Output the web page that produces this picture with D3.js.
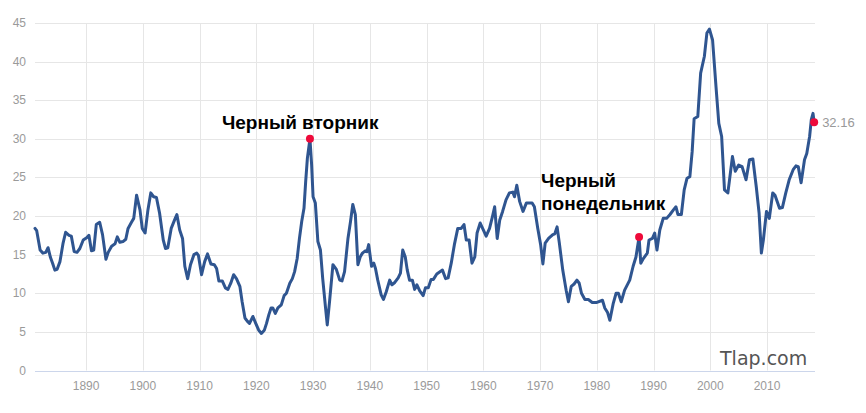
<!DOCTYPE html>
<html>
<head>
<meta charset="utf-8">
<script src="https://cdn.jsdelivr.net/npm/d3@7"></script>
<style>
  body { margin: 0; background: #fff; }
  .tick-label { font-family: "Liberation Sans", Arial, sans-serif; font-size: 12px; fill: #9a9a9a; }
  .note { font-family: "Liberation Sans", Arial, sans-serif; font-size: 19px; font-weight: bold; fill: #000; }
</style>
</head>
<body>
<div id="chart"></div>
<script>
// Shiller CAPE, values
var years = [
  1881.0, 1881.3, 1881.9, 1882.4, 1882.9, 1883.3, 1883.7, 1884.1, 1884.5, 1884.9,
  1885.4, 1885.95, 1886.4, 1887.0, 1887.4, 1887.9, 1888.4, 1888.9, 1889.5, 1890.1,
  1890.5, 1890.95, 1891.35, 1891.8, 1892.4, 1892.9, 1893.5, 1893.9, 1894.5, 1895.1,
  1895.5, 1895.95, 1896.5, 1897.0, 1897.4, 1898.0, 1898.4, 1898.9, 1899.5, 1899.9,
  1900.4, 1900.9, 1901.4, 1901.9, 1902.4, 1902.95, 1903.6, 1904.0, 1904.4, 1905.0,
  1905.6, 1906.0, 1906.5, 1907.0, 1907.4, 1907.9, 1908.4, 1909.0, 1909.5, 1909.8,
  1910.35, 1910.9, 1911.4, 1912.0, 1912.6, 1913.0, 1913.4, 1914.0, 1914.55, 1915.0,
  1915.5, 1916.0, 1916.5, 1917.1, 1917.5, 1918.0, 1918.4, 1918.8, 1919.4, 1919.9,
  1920.4, 1920.9, 1921.4, 1921.8, 1922.2, 1922.6, 1922.9, 1923.35, 1923.8, 1924.4,
  1924.9, 1925.3, 1925.9, 1926.35, 1926.75, 1927.2, 1927.6, 1928.0, 1928.4, 1928.7,
  1929.0, 1929.45, 1929.75, 1930.0, 1930.4, 1930.85, 1931.3, 1931.7, 1932.2, 1932.5,
  1932.9, 1933.5, 1934.1, 1934.7, 1935.1, 1935.55, 1936.15, 1936.6, 1937.0, 1937.45,
  1937.9, 1938.3, 1938.7, 1939.2, 1939.5, 1939.8, 1940.3, 1940.7, 1941.0, 1941.4,
  1942.0, 1942.4, 1942.9, 1943.5, 1943.9, 1944.4, 1945.0, 1945.4, 1945.8, 1946.25,
  1946.6, 1947.0, 1947.5, 1947.9, 1948.3, 1948.8, 1949.4, 1949.8, 1950.3, 1950.8,
  1951.2, 1951.8, 1952.8, 1953.35, 1953.8, 1954.35, 1954.9, 1955.5, 1956.1, 1956.6,
  1957.0, 1957.5, 1958.0, 1958.5, 1958.9, 1959.45, 1960.0, 1960.5, 1961.1, 1961.6,
  1962.0, 1962.45, 1962.9, 1963.4, 1964.0, 1964.6, 1965.2, 1965.5, 1965.9, 1966.4,
  1967.0, 1967.6, 1968.2, 1968.6, 1969.0, 1969.6, 1970.1, 1970.5, 1970.9, 1971.5,
  1972.25, 1972.6, 1973.0, 1973.4, 1974.0, 1974.6, 1975.0, 1975.5, 1976.0, 1976.5,
  1976.9, 1977.3, 1977.9, 1978.5, 1979.2, 1979.9, 1981.0, 1981.4, 1981.9, 1982.3,
  1982.9, 1983.4, 1983.8, 1984.3, 1984.9, 1985.8, 1986.4, 1986.9, 1987.45, 1987.75,
  1988.2, 1988.9, 1989.2, 1989.8, 1990.2, 1990.6, 1991.1, 1991.7, 1992.3, 1992.9,
  1993.5, 1993.95, 1994.3, 1994.9, 1995.4, 1995.9, 1996.4, 1996.8, 1997.15, 1997.8,
  1998.3, 1998.96, 1999.4, 1999.85, 2000.4, 2001.0, 2001.5, 2002.0, 2002.5, 2003.1,
  2003.9, 2004.4, 2005.0, 2005.6, 2006.3, 2006.9, 2007.5, 2008.1, 2008.6, 2009.0,
  2009.35, 2009.9, 2010.4, 2011.0, 2011.4, 2012.2, 2012.7, 2013.3, 2013.9, 2014.6,
  2015.1, 2015.5, 2016.0, 2016.6, 2017.0, 2017.5, 2017.8, 2018.1, 2018.3
];

var cape = [
  18.4, 18.1, 15.6, 15.2, 15.3, 15.9, 14.7, 13.9, 13.0, 13.1,
  14.1, 16.5, 17.9, 17.5, 17.4, 15.4, 15.3, 15.8, 16.9, 17.2,
  17.5, 15.5, 15.6, 18.9, 19.2, 17.6, 14.4, 15.3, 16.1, 16.4,
  17.3, 16.6, 16.7, 17.0, 18.4, 19.2, 19.7, 22.7, 20.8, 18.4,
  17.8, 20.8, 23.0, 22.5, 22.4, 20.4, 16.9, 15.8, 15.9, 18.4,
  19.5, 20.2, 18.2, 17.1, 13.5, 11.9, 13.7, 15.0, 15.2, 14.9,
  12.4, 14.1, 15.1, 13.8, 13.7, 13.2, 11.6, 11.6, 10.7, 10.5,
  11.3, 12.4, 11.9, 10.9, 8.9, 6.8, 6.4, 6.1, 7.0, 6.1,
  5.25, 4.8, 5.2, 6.1, 7.2, 8.1, 8.1, 7.4, 8.1, 8.5,
  9.7, 10.0, 11.3, 11.9, 12.8, 14.5, 17.1, 19.3, 21.0, 24.5,
  27.5, 30.0, 26.6, 22.5, 21.7, 16.7, 15.6, 11.9, 8.1, 5.9,
  8.9, 13.7, 13.1, 11.7, 11.6, 12.8, 17.1, 19.3, 21.5, 20.2,
  13.7, 14.7, 15.2, 15.5, 15.4, 16.3, 13.5, 13.9, 13.2, 11.7,
  9.8, 9.2, 10.2, 11.7, 11.1, 11.4, 12.0, 12.6, 15.6, 14.7,
  13.0, 11.7, 11.7, 10.5, 11.1, 10.3, 9.7, 10.7, 10.7, 11.8,
  11.8, 12.5, 13.0, 11.9, 12.0, 13.9, 16.3, 18.4, 18.4, 18.9,
  16.9, 16.9, 13.9, 14.7, 17.8, 19.1, 18.2, 17.4, 18.4, 19.9,
  21.2, 17.1, 19.5, 20.6, 22.1, 23.0, 23.1, 22.5, 24.0, 21.9,
  20.6, 21.7, 21.7, 21.7, 21.2, 18.4, 16.3, 13.8, 16.5, 17.1,
  17.6, 17.7, 18.6, 16.5, 13.0, 10.4, 8.9, 10.9, 11.2, 11.7,
  11.3, 10.0, 9.2, 9.2, 8.8, 8.8, 9.1, 8.1, 7.5, 6.5,
  8.7, 10.0, 10.0, 8.9, 10.4, 11.7, 13.5, 14.7, 17.3, 13.9,
  14.5, 15.2, 16.9, 17.1, 17.8, 15.6, 18.2, 19.7, 19.7, 20.2,
  20.8, 21.2, 20.2, 20.2, 23.4, 24.9, 25.1, 28.3, 32.6, 32.9,
  38.5, 40.7, 43.7, 44.2, 42.8, 36.8, 32.0, 30.3, 23.4, 23.0,
  27.7, 25.8, 26.6, 26.4, 24.7, 27.3, 27.4, 23.8, 20.4, 15.2,
  16.9, 20.6, 19.7, 23.0, 22.7, 21.0, 21.1, 23.0, 24.7, 26.0,
  26.5, 26.4, 24.3, 27.3, 28.1, 30.3, 32.5, 33.3, 32.16
];

var yTicks = [0, 5, 10, 15, 20, 25, 30, 35, 40, 45];
var xTicks = [1890, 1900, 1910, 1920, 1930, 1940, 1950, 1960, 1970, 1980, 1990, 2000, 2010];

// highlighted points: black tuesday, black monday, last value
var eventYears = [1929.45, 1987.45];
var eventValues = [30.0, 17.3];
var eventLabels = [["Черный вторник"], ["Черный", "понедельник"]];
var lastLabel = "32.16";

var width = 866, height = 413;
var margin = { top: 23, right: 51, bottom: 43, left: 35 };

var svg = d3.select("#chart")
  .append("svg")
  .attr("width", width)
  .attr("height", height);

var x = d3.scaleLinear()
  .domain([1881, 2018.45])
  .range([margin.left, width - margin.right]);

var y = d3.scaleLinear()
  .domain([0, 45])
  .range([height - margin.bottom + 0.5, margin.top]);

// grid
svg.append("g")
  .selectAll("line")
  .data(yTicks)
  .enter().append("line")
  .attr("x1", margin.left)
  .attr("x2", width - margin.right)
  .attr("y1", function (d) { return Math.round(y(d)) + 0.5; })
  .attr("y2", function (d) { return Math.round(y(d)) + 0.5; })
  .style("stroke", function (d) { return d === 0 ? "#ccd6eb" : "#e6e6e6"; });

svg.append("g")
  .selectAll("line")
  .data(xTicks)
  .enter().append("line")
  .attr("x1", function (d) { return Math.round(x(d)) + 0.5; })
  .attr("x2", function (d) { return Math.round(x(d)) + 0.5; })
  .attr("y1", y(45))
  .attr("y2", y(0))
  .style("stroke", "#e6e6e6");

// axis labels
svg.append("g")
  .selectAll("text")
  .data(yTicks)
  .enter().append("text")
  .attr("class", "tick-label")
  .attr("x", 26)
  .attr("y", function (d) { return y(d) + 4; })
  .attr("text-anchor", "end")
  .text(function (d) { return d; });

svg.append("g")
  .selectAll("text")
  .data(xTicks)
  .enter().append("text")
  .attr("class", "tick-label")
  .attr("x", function (d) { return x(d); })
  .attr("y", 390)
  .attr("text-anchor", "middle")
  .text(function (d) { return d; });

// watermark
svg.append("text")
  .attr("x", 720)
  .attr("y", 365)
  .style("font-family", "'Comic Sans MS', 'DejaVu Sans', sans-serif")
  .style("font-size", "19px")
  .style("fill", "#555")
  .text("Tlap.com");

// the line
var points = years.map(function (d, i) { return [d, cape[i]]; });

var line = d3.line()
  .x(function (d) { return x(d[0]); })
  .y(function (d) { return y(d[1]); });

svg.append("path")
  .datum(points)
  .attr("d", line)
  .style("fill", "none")
  .style("stroke", "#2f5590")
  .style("stroke-width", 3)
  .style("stroke-linejoin", "round")
  .style("stroke-linecap", "round");

// event dots and notes
var dots = eventYears.map(function (d, i) { return [d, eventValues[i]]; });
dots.push(points[points.length - 1]);

svg.append("g")
  .selectAll("circle")
  .data(dots)
  .enter().append("circle")
  .attr("cx", function (d) { return x(d[0]); })
  .attr("cy", function (d) { return y(d[1]); })
  .attr("r", 4)
  .style("fill", "#ee0a3a");

var noteOffsets = [[-88, -10], [-98, -50]];
eventLabels.forEach(function (lines, i) {
  var t = svg.append("text")
    .attr("class", "note")
    .attr("x", x(eventYears[i]) + noteOffsets[i][0])
    .attr("y", y(eventValues[i]) + noteOffsets[i][1]);
  lines.forEach(function (s, j) {
    t.append("tspan")
      .attr("x", x(eventYears[i]) + noteOffsets[i][0])
      .attr("dy", j === 0 ? 0 : 23)
      .text(s);
  });
});

var last = points[points.length - 1];
svg.append("text")
  .attr("x", x(last[0]) + 8)
  .attr("y", y(last[1]) + 5)
  .style("font-family", "'Liberation Sans', Arial, sans-serif")
  .style("font-size", "13px")
  .style("fill", "#999")
  .text(lastLabel);
</script>
</body>
</html>
